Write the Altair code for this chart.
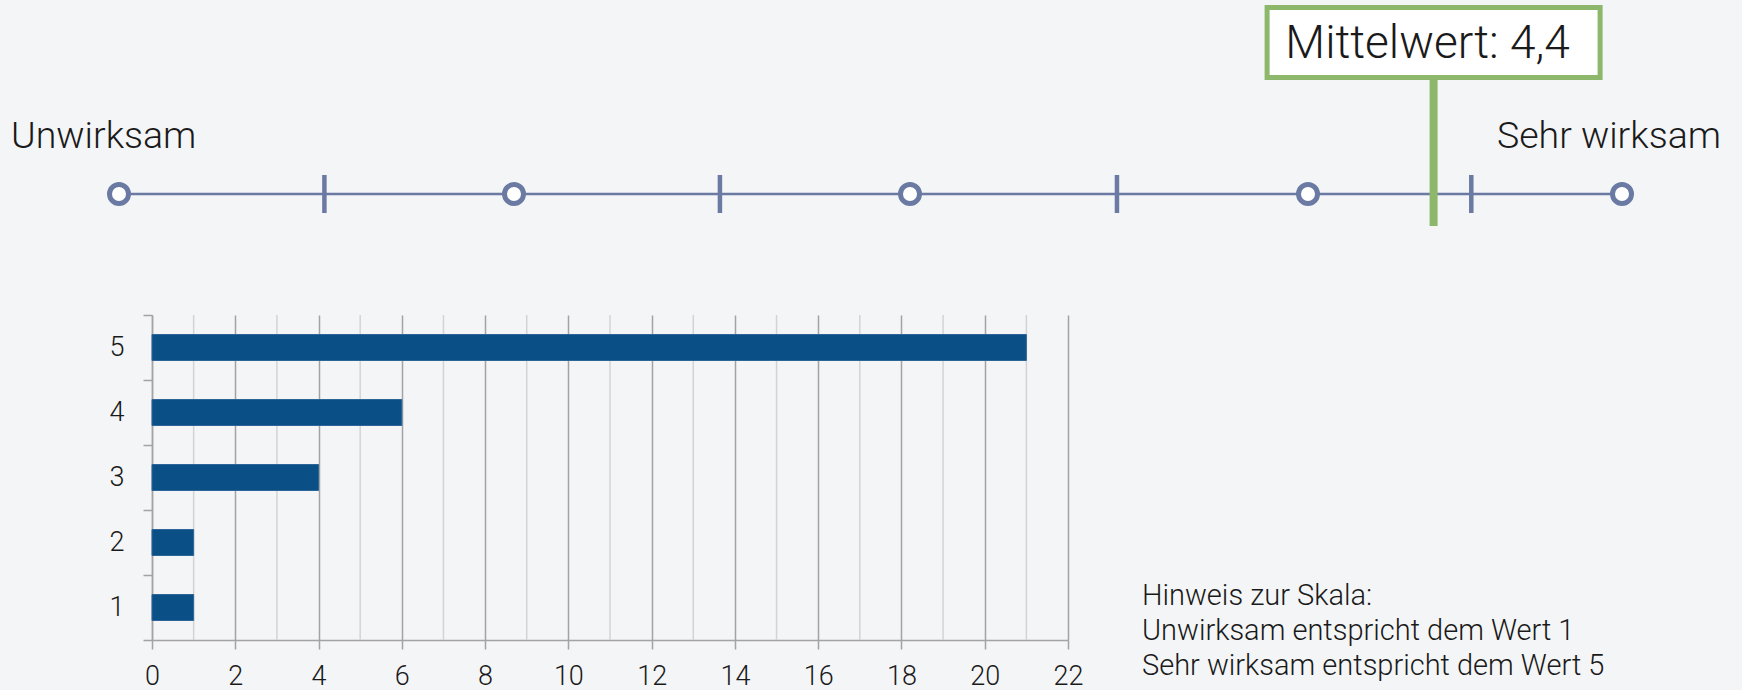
import altair as alt
import pandas as pd

# --- data -------------------------------------------------------------
ratings = ["1", "2", "3", "4", "5"]
counts = [1, 1, 4, 6, 21]

scale_points = [1, 2, 3, 4, 5]
scale_dividers = [1.52, 2.52, 3.52, 4.52]
x_ticks = list(range(0, 23, 2))
minor_grid = list(range(1, 22, 2))

end_labels = ["Unwirksam", "Sehr wirksam"]
note_lines = [
    "Hinweis zur Skala:",
    "Unwirksam entspricht dem Wert 1",
    "Sehr wirksam entspricht dem Wert 5",
]

mean_value = round(
    sum(int(r) * c for r, c in zip(ratings, counts)) / sum(counts), 1
)
mean_label = f"Mittelwert: {mean_value:.1f}".replace(".", ",")

# --- style ------------------------------------------------------------
BG = "#f4f5f7"
BAR = "#0b4f87"
SLATE = "#6a7aa3"
GREEN = "#8db76b"
INK = "#1a1a1a"
AXIS_GREY = "#a3a3a3"
FONT = "Roboto"
W_LIGHT = 300

PLOT_W, PLOT_H = 916, 325
LEFT, TOP = 152, 315

bar_df = pd.DataFrame({"rating": ratings, "count": counts})
minor_df = pd.DataFrame({"count": minor_grid})
points_df = pd.DataFrame({"p": scale_points})
dividers_df = pd.DataFrame({"d": scale_dividers})
line_df = pd.DataFrame({"lo": [min(scale_points)], "hi": [max(scale_points)]})
mean_df = pd.DataFrame({"m": [mean_value], "label": [mean_label]})

# --- bar chart (frequency per rating) --------------------------------
count_scale = alt.Scale(domain=[0, 22], nice=False, zero=True)
count_axis = alt.Axis(
    values=x_ticks,
    title=None,
    grid=True,
    gridColor=AXIS_GREY,
    gridWidth=1.5,
    domainColor=AXIS_GREY,
    domainWidth=1.5,
    tickColor=AXIS_GREY,
    tickWidth=1.5,
    tickSize=9,
    labelPadding=14,
    labelFont=FONT,
    labelFontWeight=W_LIGHT,
    labelFontSize=27,
    labelColor=INK,
    labelFlush=False,
    labelOverlap=False,
)

minor = alt.Chart(minor_df).mark_rule(color="#d3d3d3", strokeWidth=1.5).encode(
    x=alt.X("count:Q", scale=count_scale, axis=count_axis)
)

bars = alt.Chart(bar_df).mark_bar(
    height=26, color=BAR, stroke="#2d6598", strokeWidth=1
).encode(
    x=alt.X("count:Q", scale=count_scale, axis=count_axis),
    y=alt.Y(
        "rating:N",
        sort=ratings[::-1],
        scale=alt.Scale(paddingInner=0, paddingOuter=0),
        axis=alt.Axis(
            title=None,
            tickBand="extent",
            grid=False,
            domainColor=AXIS_GREY,
            domainWidth=1.5,
            tickColor=AXIS_GREY,
            tickWidth=1.5,
            tickSize=9,
            labelPadding=19,
            labelFont=FONT,
            labelFontWeight=W_LIGHT,
            labelFontSize=27,
            labelColor=INK,
        ),
    ),
)

bottom = alt.layer(minor, bars)

# --- rating scale with mean marker -----------------------------------
scale_x = alt.Scale(
    domain=scale_points,
    range=[-33, 362, 758, 1156, 1470],
    nice=False,
    zero=False,
)
LINE_Y = -121

scale_line = alt.Chart(line_df).mark_rule(color=SLATE, strokeWidth=2.5).encode(
    x=alt.X("lo:Q", scale=scale_x, axis=None),
    x2="hi:Q",
    y=alt.value(LINE_Y),
)

dividers = alt.Chart(dividers_df).mark_rule(color=SLATE, strokeWidth=4.5).encode(
    x=alt.X("d:Q", scale=scale_x, axis=None),
    y=alt.value(LINE_Y - 19),
    y2=alt.value(LINE_Y + 19),
)

circles = alt.Chart(points_df).mark_point(
    shape="circle",
    fill="white",
    stroke=SLATE,
    strokeWidth=5,
    size=361,
    opacity=1,
    fillOpacity=1,
).encode(
    x=alt.X("p:Q", scale=scale_x, axis=None),
    y=alt.value(LINE_Y),
)

mean_rule = alt.Chart(mean_df).mark_rule(color=GREEN, strokeWidth=8).encode(
    x=alt.X("m:Q", scale=scale_x, axis=None),
    y=alt.value(-238),
    y2=alt.value(-89),
)

mean_box = alt.Chart(mean_df).mark_rect(
    fill="white", stroke=GREEN, strokeWidth=5, xOffset=-166.5, x2Offset=166.5
).encode(
    x=alt.X("m:Q", scale=scale_x, axis=None),
    x2="m:Q",
    y=alt.value(-307.5),
    y2=alt.value(-237.5),
)

mean_text = alt.Chart(mean_df).mark_text(
    font=FONT,
    fontWeight=W_LIGHT,
    fontSize=46,
    color=INK,
    align="center",
    baseline="alphabetic",
    dx=-6,
).encode(
    x=alt.X("m:Q", scale=scale_x, axis=None),
    y=alt.value(-257),
    text="label:N",
)

end_left = alt.Chart(pd.DataFrame({"t": [end_labels[0]]})).mark_text(
    font=FONT, fontWeight=W_LIGHT, fontSize=37.5, color=INK,
    align="left", baseline="alphabetic",
).encode(x=alt.value(-141), y=alt.value(-167), text="t:N")

end_right = alt.Chart(pd.DataFrame({"t": [end_labels[1]]})).mark_text(
    font=FONT, fontWeight=W_LIGHT, fontSize=37.5, color=INK,
    align="right", baseline="alphabetic",
).encode(x=alt.value(1569), y=alt.value(-167), text="t:N")

top = alt.layer(
    scale_line, dividers, circles, mean_rule, mean_box, mean_text, end_left, end_right
)

# --- note on the scale -----------------------------------------------
note = alt.Chart(pd.DataFrame({"k": [0]})).mark_text(
    text=note_lines,
    font=FONT,
    fontWeight=W_LIGHT,
    fontSize=29,
    lineHeight=35,
    color=INK,
    align="left",
    baseline="alphabetic",
).encode(x=alt.value(990), y=alt.value(290))

chart = (
    alt.layer(bottom, top, note)
    .resolve_scale(x="independent")
    .properties(
        width=PLOT_W,
        height=PLOT_H,
        background=BG,
        padding={
            "left": LEFT,
            "top": TOP,
            "right": 1742 - LEFT - PLOT_W,
            "bottom": 690 - TOP - PLOT_H,
        },
        autosize=alt.AutoSizeParams(type="none"),
    )
    .configure_view(stroke=None)
)

chart.save("out.html", embed_options={"renderer": "svg", "actions": False})
